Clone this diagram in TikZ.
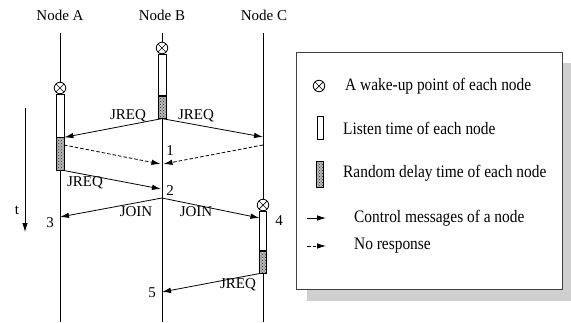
\documentclass[tikz,border=0pt]{standalone}
\usepackage{fontspec}
\setmainfont{Liberation Serif}
\newfontfamily\legfont[FakeStretch=0.88]{Liberation Serif}
\usetikzlibrary{arrows.meta,patterns}
\begin{document}
\begin{tikzpicture}[x=1pt,y=-1pt,
  lbl/.style={font=\fontsize{15}{17}\selectfont, inner sep=0pt},
  leg/.style={font=\legfont\fontsize{17.5}{20}\selectfont, inner sep=0pt, anchor=west},
  tl/.style={line width=0.8pt},
  msg/.style={line width=0.8pt, -{Latex[length=9pt,width=5.5pt]}},
  nores/.style={msg, dash pattern=on 3.5pt off 2pt},
  listen/.style={draw, line width=0.8pt, fill=white, inner sep=0pt, anchor=north},
  delay/.style={draw, line width=0.8pt, preaction={fill=gray!55}, pattern=crosshatch dots, pattern color=black!85, inner sep=0pt, anchor=north},
  wake/.style={draw, line width=0.8pt, circle, minimum size=11.5pt, inner sep=0pt, fill=white,
    path picture={\draw[line width=0.7pt] (path picture bounding box.north west)--(path picture bounding box.south east)
      (path picture bounding box.north east)--(path picture bounding box.south west);}},
]
\useasboundingbox (0,0) rectangle (571,322);

% headers
\node[lbl] (hA) at (60,15) {Node A};
\node[lbl] (hB) at (162,15) {Node B};
\node[lbl] (hC) at (264,15) {Node C};

% Node A timeline
\coordinate (a0) at (60,33);
\coordinate (a9) at (60,322);
\node[wake] (wA) at (60,88) {};
\node[listen, minimum width=8pt, minimum height=43pt] (lA) at (60,93.5) {};
\node[delay, minimum width=8pt, minimum height=32.5pt] (dA) at (lA.south) {};
\draw[tl] (a0) -- (wA.north);
\draw[tl] (dA.south) -- (a9);

% Node B timeline
\coordinate (b0) at (162,33);
\coordinate (b9) at (162,322);
\node[wake] (wB) at (162,48) {};
\node[listen, minimum width=8pt, minimum height=41.5pt] (lB) at (162,53.5) {};
\node[delay, minimum width=8pt, minimum height=22pt] (dB) at (lB.south) {};
\draw[tl] (b0) -- (wB.north);
\draw[tl] (dB.south) -- (b9);

% Node C timeline
\coordinate (c0) at (263,33);
\coordinate (c9) at (263,322);
\node[wake] (wC) at (263,205) {};
\node[listen, minimum width=7pt, minimum height=39.5pt] (lC) at (263,210.5) {};
\node[delay, minimum width=7pt, minimum height=22pt] (dC) at (lC.south) {};
\draw[tl] (c0) -- (wC.north);
\draw[tl] (dC.south) -- (c9);

% message end points
\coordinate (cJ1) at (263,137);
\coordinate (aN) at (64,145);
\coordinate (cN) at (263,145);
\coordinate (bN1) at (160.5,164);
\coordinate (bN2) at (163.5,164);
\coordinate (bJ2) at (161,189);
\coordinate (bO) at (162,198);
\coordinate (aO) at (60,217);
\coordinate (cO) at (259.5,218);
\coordinate (bJ5) at (162,292);

% messages
\draw[msg] (dB.south) -- (dA.north east);
\draw[msg] (dB.south) -- (cJ1);
\draw[nores] (aN) -- (bN1);
\draw[nores] (cN) -- (bN2);
\draw[msg] (dA.south east) -- (bJ2);
\draw[msg] (bO) -- (aO);
\draw[msg] (bO) -- (cO);
\draw[msg] (dC.south west) -- (bJ5);

% labels
\node[lbl] (j1) at (128,116) {JREQ};
\node[lbl] (j2) at (196,116) {JREQ};
\node[lbl] (j3) at (85,183) {JREQ};
\node[lbl] (o1) at (136,212) {JOIN};
\node[lbl] (o2) at (196,212) {JOIN};
\node[lbl] (j4) at (238,285) {JREQ};
\node[lbl] (n1) at (170,151) {1};
\node[lbl] (n2) at (170,191) {2};
\node[lbl] (n3) at (50,223) {3};
\node[lbl] (n4) at (279,221) {4};
\node[lbl] (n5) at (152,293) {5};

% time arrow
\coordinate (t0) at (25,108);
\coordinate (t1) at (25,232);
\draw[msg] (t0) -- (t1);
\node[lbl] (tl) at (17,210) {t};

% legend
\fill[gray!38] (307,63) rectangle (575,301);
\node[draw=black!75, line width=1pt, fill=white, minimum width=266pt, minimum height=237pt, anchor=north west, inner sep=0pt] (box) at (296,52) {};
\node[wake] (kw) at (319,86) {};
\node[draw, line width=0.8pt, fill=white, inner sep=0pt, minimum width=6pt, minimum height=23pt] (kl) at (320,128) {};
\node[delay, anchor=center, minimum width=7pt, minimum height=26pt] (kd) at (320,174) {};
\coordinate (ka0) at (307,218);
\coordinate (ka1) at (326,218);
\draw[msg] (ka0) -- (ka1);
\coordinate (kn0) at (307,246);
\coordinate (kn1) at (326,246);
\draw[nores] (kn0) -- (kn1);
\node[leg] (tw) at (345,86) {A wake-up point of each node};
\node[leg] (tli) at (343,128) {Listen time of each node};
\node[leg] (tr) at (343,173) {Random delay time of each node};
\node[leg] (tc) at (354,218) {Control messages of a node};
\node[leg] (tn) at (354,246) {No response};
\end{tikzpicture}
\end{document}
